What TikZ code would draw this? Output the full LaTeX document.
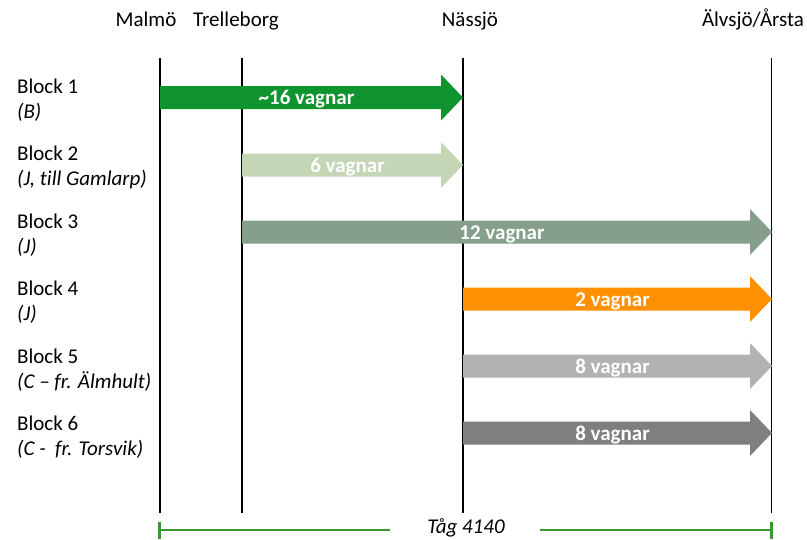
\documentclass[tikz,border=0pt]{standalone}
\usepackage{fontspec}
\setmainfont[Ligatures=NoCommon]{Carlito}
\definecolor{cbone}{RGB}{16,148,47}
\definecolor{cbtwo}{RGB}{197,214,183}
\definecolor{cbthree}{RGB}{133,159,140}
\definecolor{cbfour}{RGB}{255,145,0}
\definecolor{cbfive}{RGB}{178,178,178}
\definecolor{cbsix}{RGB}{127,127,127}
\definecolor{tlgreen}{RGB}{58,152,50}
\tikzset{
  txt/.style={font=\fontsize{21}{25}\selectfont, inner sep=0pt},
  stationlbl/.style={txt, anchor=base},
  blocklbl/.style={txt, anchor=base west},
  arrlbl/.style={txt, anchor=base, font=\fontsize{21}{25}\selectfont\bfseries, text=white},
  vline/.style={line width=1.5pt, black},
  tl/.style={line width=2.3pt, tlgreen},
}
% \blockarrow{color}{x0}{tip}{cy}{name}{label}
\newcommand{\blockarrow}[6]{%
  \fill[#1] (#2,#4-11.5) -- (#3-22,#4-11.5) -- (#3-22,#4-23) -- (#3,#4) -- (#3-22,#4+23) -- (#3-22,#4+11.5) -- (#2,#4+11.5) -- cycle;
  \node[arrlbl] (#5) at ({(#2+#3)/2-5},#4+7) {#6};
}
\begin{document}
\begin{tikzpicture}[x=1pt,y=-1pt]
\useasboundingbox (0,0) rectangle (807,539);
% station labels
\node[stationlbl] (malmo) at (146,26) {Malmö};
\node[stationlbl] (trelleborg) at (236,26) {Trelleborg};
\node[stationlbl] (nassjo) at (470,26) {Nässjö};
\node[stationlbl] (alvsjo) at (753,26) {Älvsjö/Årsta};
% vertical lines
\coordinate (m1) at (160,58); \coordinate (m2) at (160,513);
\coordinate (t1) at (242,58); \coordinate (t2) at (242,513);
\coordinate (n1) at (463,58); \coordinate (n2) at (463,513);
\coordinate (a1) at (771.5,58); \coordinate (a2) at (771.5,513);
\draw[vline] (m1) -- (m2);
\draw[vline] (t1) -- (t2);
\draw[vline] (n1) -- (n2);
\draw[vline] (a1) -- (a2);
% block labels
\node[blocklbl] (b1) at (17,93) {Block 1};
\node[blocklbl] (b1s) at (17,118) {\itshape (B)};
\node[blocklbl] (b2) at (17,160) {Block 2};
\node[blocklbl] (b2s) at (17,185) {\itshape (J, till Gamlarp)};
\node[blocklbl] (b3) at (17,228) {Block 3};
\node[blocklbl] (b3s) at (17,253) {\itshape (J)};
\node[blocklbl] (b4) at (17,295) {Block 4};
\node[blocklbl] (b4s) at (17,320) {\itshape (J)};
\node[blocklbl] (b5) at (17,363) {Block 5};
\node[blocklbl] (b5s) at (17,388) {\itshape (C – fr. Älmhult)};
\node[blocklbl] (b6) at (17,430) {Block 6};
\node[blocklbl] (b6s) at (17,455) {\itshape (C -\ \ fr. Torsvik)};
% arrows
\blockarrow{cbone}{160}{463}{97.5}{a1l}{\textasciitilde16 vagnar}
\blockarrow{cbtwo}{242}{463}{165}{a2l}{6 vagnar}
\blockarrow{cbthree}{242}{772}{232}{a3l}{12 vagnar}
\blockarrow{cbfour}{463}{772}{299}{a4l}{2 vagnar}
\blockarrow{cbfive}{463}{772}{366}{a5l}{8 vagnar}
\blockarrow{cbsix}{463}{772}{433}{a6l}{8 vagnar}
% timeline
\node[txt, anchor=base] (tag) at (466,533) {\itshape Tåg 4140};
\coordinate (tlL) at (159.5,530);
\coordinate (tlR) at (771.5,530);
\draw[tl] (tlL) -- (390,530);
\draw[tl] (540,530) -- (tlR);
\draw[tl] ([yshift=-9]tlL) -- ([yshift=8]tlL);
\draw[tl] ([yshift=-9]tlR) -- ([yshift=8]tlR);
\end{tikzpicture}
\end{document}
